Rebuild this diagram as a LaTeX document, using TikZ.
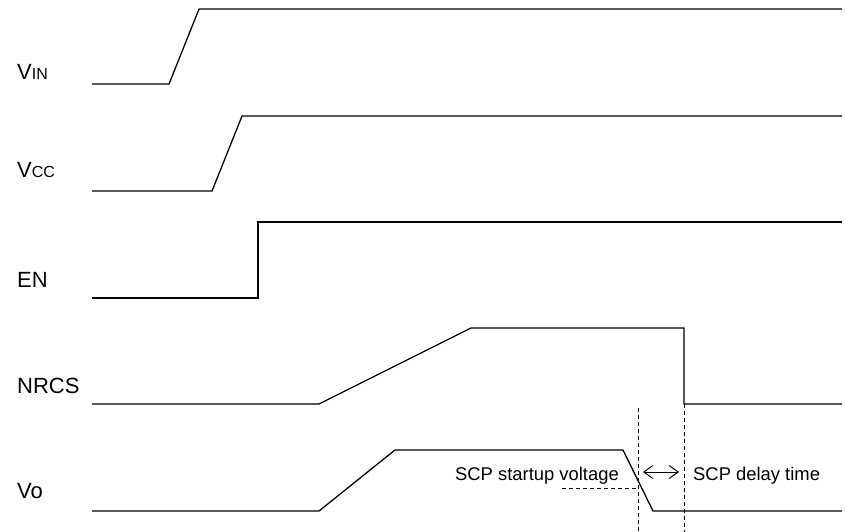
\documentclass[tikz,border=0pt]{standalone}
\usepackage{fontspec}
\setmainfont{Liberation Sans}
\usetikzlibrary{arrows.meta}

\newcommand{\sigsub}[1]{{\fontsize{16}{18}\selectfont #1}}

\begin{document}
\begin{tikzpicture}[
  x=1pt, y=-1pt,
  wave/.style={line width=1.3pt, line join=miter},
  guide/.style={line width=1pt, dash pattern=on 4pt off 3pt},
  sig/.style={anchor=base west, inner sep=0pt, font=\fontsize{22}{24}\selectfont},
  note/.style={inner sep=0pt, font=\fontsize{18.4}{20}\selectfont},
  dblarr/.style={{Straight Barb[length=9pt, width=13pt]}-{Straight Barb[length=9pt, width=13pt]}, line width=1pt}
]
\useasboundingbox (0,0) rectangle (846,532);

% signal names
\node[sig] (vin) at (17,80) {V\sigsub{IN}};
\node[sig] (vcc) at (17,178) {V\sigsub{CC}};
\node[sig] (en) at (17,287) {EN};
\node[sig] (nrcs) at (17,393) {NRCS};
\node[sig] (vo) at (17,498) {Vo};

% waveforms
\draw[wave] (92,84) -- (169,84) -- (199,9) -- (842,9);
\draw[wave] (92,191) -- (212,191) -- (242,116) -- (842,116);
\draw[wave] (92,298) -- (258,298) -- (258,222) -- (842,222);
\draw[wave] (92,404) -- (319,404) -- (471,328) -- (684,328) -- (684,404) -- (842,404);
\draw[wave] (92,511) -- (319,511) -- (395,450) -- (623,450) -- (653,511) -- (842,511);

% short circuit markers
\coordinate (scptop) at (638,408);
\coordinate (scpbot) at (638,532);
\coordinate (dlytop) at (684,404);
\coordinate (dlybot) at (684,532);
\coordinate (lvl) at (562,488);
\draw[guide] (scptop) -- (scpbot);
\draw[guide] (dlytop) -- (dlybot);
\draw[guide] (lvl) -- (lvl -| scptop);

\coordinate (arrl) at (643,472);
\coordinate (arrr) at (679,472);
\draw[dblarr] (arrl) -- (arrr);

\node[note, anchor=base east] (startv) at (619,480) {SCP startup voltage};
\node[note, anchor=base west] (dlyt) at (693,480) {SCP delay time};
\end{tikzpicture}
\end{document}
